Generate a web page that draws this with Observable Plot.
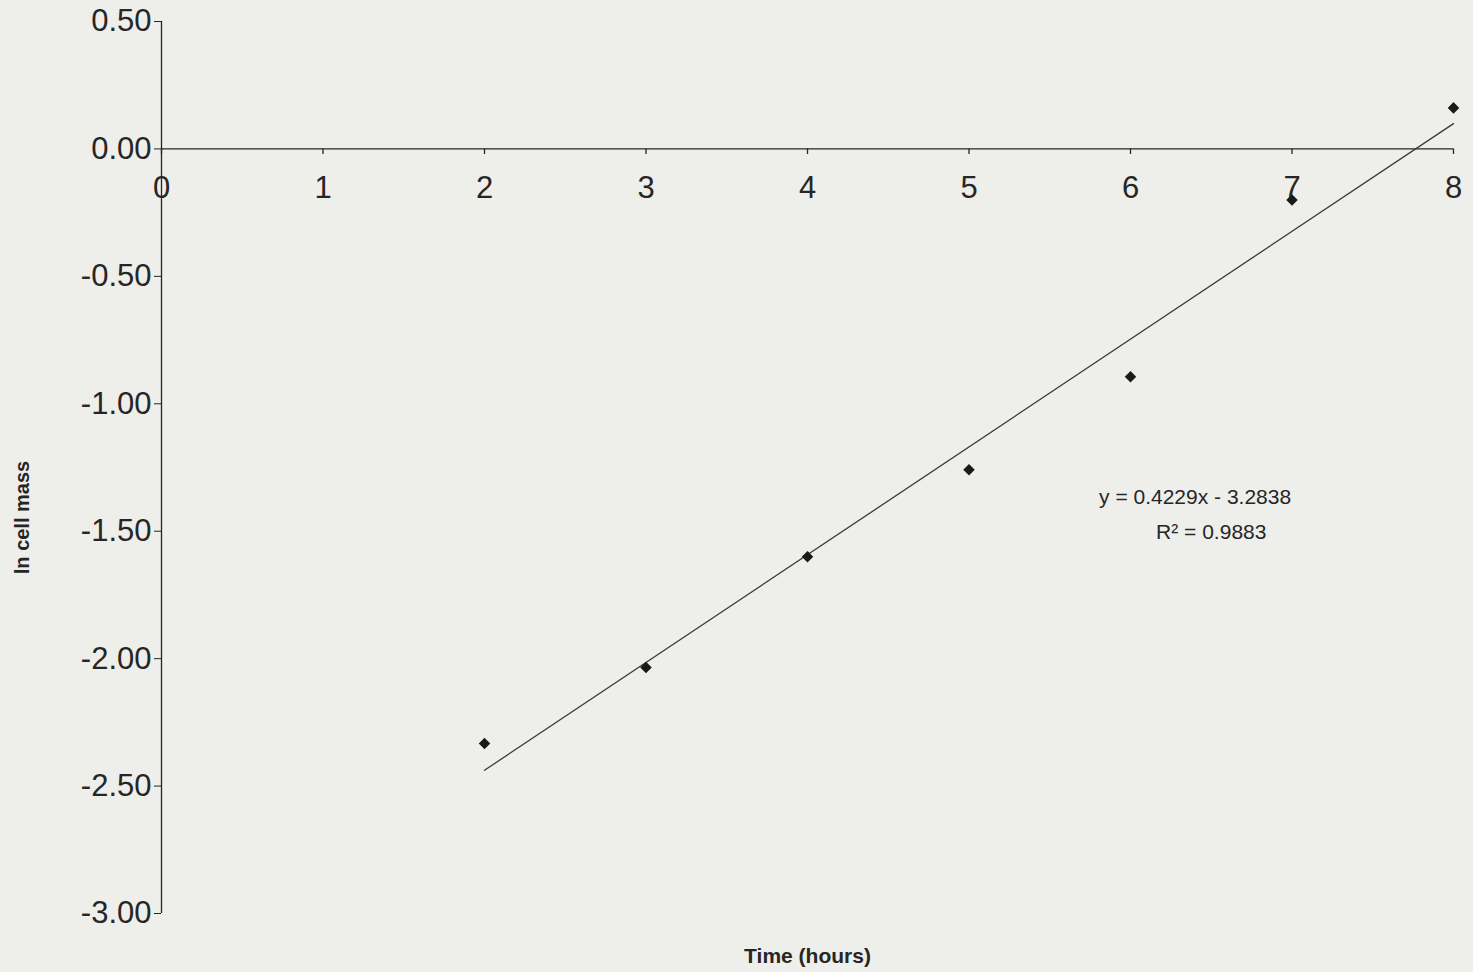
<!DOCTYPE html>
<html>
<head>
<meta charset="utf-8">
<script src="https://cdn.jsdelivr.net/npm/d3@7"></script>
<script src="https://cdn.jsdelivr.net/npm/@observablehq/plot@0.6"></script>
<style>
  html, body { margin: 0; padding: 0; background: #eeeeea; }
  #chart svg { display: block; }
</style>
</head>
<body>
<div id="chart"></div>
<script>
// Growth measurements: time (hours) vs ln of cell mass
const hours = [2, 3, 4, 5, 6, 7, 8];
const lnCellMass = [-2.333, -2.035, -1.600, -1.259, -0.894, -0.200, 0.161];

// Linear trendline reported on the chart
const slope = 0.4229;
const intercept = -3.2838;
const rSquared = 0.9883;

// Axis ticks
const xTicks = [0, 1, 2, 3, 4, 5, 6, 7, 8];
const yTicks = [0.5, 0, -0.5, -1, -1.5, -2, -2.5, -3];

const points = hours.map((h, i) => ({x: h, y: lnCellMass[i]}));
const trend = [2, 8].map(x => ({x, y: slope * x + intercept}));
const eqLines = [
  {x: 6.40, y: -1.365, text: `y = ${slope}x - ${Math.abs(intercept)}`},
  {x: 6.50, y: -1.505, text: `R² = ${rSquared}`}
];

const ink = "#262626";
const font = "'Liberation Sans', Arial, Helvetica, sans-serif";

const chart = Plot.plot({
  width: 1473,
  height: 972,
  marginLeft: 161,
  marginRight: 20,
  marginTop: 21,
  marginBottom: 59,
  style: {background: "#eeeeea", fontFamily: font, color: ink},
  x: {domain: [0, 8], axis: null},
  y: {domain: [-3, 0.5]},
  marks: [
    // y axis with outward ticks and fixed-decimal labels
    Plot.axisY({
      ticks: yTicks,
      tickFormat: d => d.toFixed(2),
      tickSize: 7,
      tickPadding: 3,
      fontSize: 31,
      stroke: ink,
      fill: ink,
      label: null
    }),
    Plot.ruleX([0], {y1: -3, y2: 0.5, stroke: ink, strokeWidth: 1.3}),
    // x axis drawn along y = 0
    Plot.ruleY([0], {x1: 0, x2: 8, stroke: ink, strokeWidth: 1.3}),
    Plot.ruleX(xTicks, {x: d => d, y1: 0, y2: -0.022, stroke: ink, strokeWidth: 1.3}),
    Plot.text(xTicks, {x: d => d, y: 0, dy: 39, text: d => String(d), fontSize: 31, fill: ink}),
    // trendline
    Plot.line(trend, {x: "x", y: "y", stroke: "#3a3a3a", strokeWidth: 1.3}),
    // observations
    Plot.dot(points, {x: "x", y: "y", symbol: "diamond2", r: 5.2, fill: "#1a1a1a", stroke: "none"}),
    // trendline equation
    Plot.text(eqLines, {x: "x", y: "y", text: "text", fontSize: 21, fill: ink}),
    // axis titles
    Plot.text(["ln cell mass"], {frameAnchor: "left", textAnchor: "middle", dx: -139, dy: 50, rotate: -90, fontSize: 20, fontWeight: "bold", fill: ink}),
    Plot.text(["Time (hours)"], {frameAnchor: "bottom", dy: 49, fontSize: 21, fontWeight: "bold", fill: ink})
  ]
});

document.getElementById("chart").append(chart);
</script>
</body>
</html>
